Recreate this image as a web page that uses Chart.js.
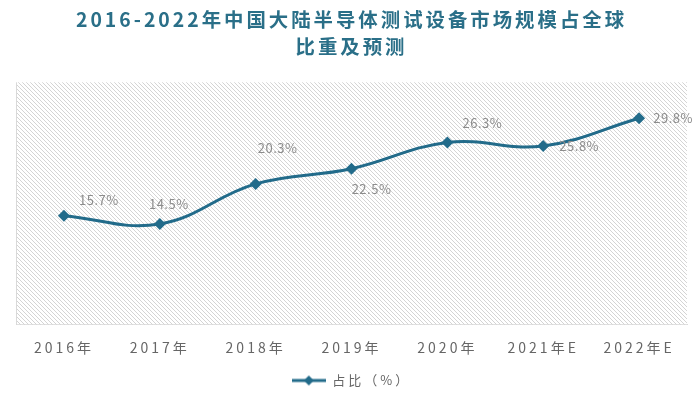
<!DOCTYPE html>
<html>
<head>
<meta charset="utf-8">
<script src="https://cdn.jsdelivr.net/npm/chart.js@4"></script>
<style>
html,body{margin:0;padding:0;background:#fff;}
#wrap{width:700px;height:397px;}
</style>
</head>
<body>
<div id="wrap"><canvas id="c"></canvas></div>
<script>
const categories = ['2016年','2017年','2018年','2019年','2020年','2021年E','2022年E'];
const shareValues = [15.7, 14.5, 20.3, 22.5, 26.3, 25.8, 29.8];
const seriesName = '占比（%）';
const titleLines = ['2016-2022年中国大陆半导体测试设备市场规模占全球', '比重及预测'];

const LINE_COLOR = '#226b8a';
const CJK = '"Noto Sans CJK SC", "Noto Sans", sans-serif';

// legend marker: line with diamond
const legendMark = document.createElement('canvas');
legendMark.width = 34; legendMark.height = 12;
(function(){
  const g = legendMark.getContext('2d');
  g.strokeStyle = LINE_COLOR; g.lineWidth = 3;
  g.beginPath(); g.moveTo(0,6); g.lineTo(34,6); g.stroke();
  g.fillStyle = LINE_COLOR;
  g.beginPath(); g.moveTo(17,1); g.lineTo(22,6); g.lineTo(17,11); g.lineTo(12,6); g.closePath(); g.fill();
})();

// hatched pattern
function makePattern(ctx){
  const t = document.createElement('canvas');
  t.width = 4; t.height = 4;
  const g = t.getContext('2d');
  g.fillStyle = '#ffffff'; g.fillRect(0,0,4,4);
  g.strokeStyle = '#d4d4d4'; g.lineWidth = 1;
  g.beginPath();
  g.moveTo(-1,-1); g.lineTo(5,5);
  g.moveTo(-1,3); g.lineTo(1,5);
  g.moveTo(3,-1); g.lineTo(5,1);
  g.stroke();
  return ctx.createPattern(t, 'repeat');
}

const spacingPlugin = {
  id: 'spacing',
  beforeLayout(chart){ chart.ctx.letterSpacing = '3px'; },
  beforeDraw(chart){ chart.ctx.letterSpacing = '3px'; }
};

const areaPlugin = {
  id: 'area',
  beforeDatasetsDraw(chart){
    const {ctx, chartArea:a} = chart;
    ctx.save();
    ctx.fillStyle = makePattern(ctx);
    ctx.fillRect(a.left, a.top, a.right-a.left, a.bottom-a.top);
    ctx.strokeStyle = '#d9d9d9'; ctx.lineWidth = 1;
    ctx.beginPath(); ctx.moveTo(a.left+0.5, a.top); ctx.lineTo(a.left+0.5, a.bottom); ctx.stroke();
    ctx.restore();
  }
};

const labelPlugin = {
  id: 'pointLabels',
  afterDatasetsDraw(chart, args, opts){
    const {ctx} = chart;
    const meta = chart.getDatasetMeta(0);
    ctx.save();
    ctx.letterSpacing = '0.5px';
    ctx.font = '13px ' + CJK;
    ctx.fillStyle = '#8c8c8c';
    ctx.textAlign = 'center';
    ctx.textBaseline = 'middle';
    meta.data.forEach((pt, i) => {
      const v = chart.data.datasets[0].data[i];
      const o = opts.offsets[i];
      ctx.fillText(v.toFixed(1) + '%', pt.x + o[0], pt.y + o[1]);
    });
    ctx.restore();
  }
};

new Chart(document.getElementById('c'), {
  type: 'line',
  data: {
    labels: categories,
    datasets: [{
      label: seriesName,
      data: shareValues,
      borderColor: LINE_COLOR,
      backgroundColor: LINE_COLOR,
      borderWidth: 3,
      tension: 0.4,
      pointStyle: 'rectRot',
      pointRadius: 6,
      pointHoverRadius: 6,
      pointBackgroundColor: LINE_COLOR,
      pointBorderColor: LINE_COLOR,
      pointBorderWidth: 0
    }]
  },
  options: {
    responsive: true,
    maintainAspectRatio: false,
    animation: false,
    layout: { padding: { left: 16, right: 13, top: 0, bottom: 0 } },
    scales: {
      x: {
        offset: true,
        grid: { display: false, drawTicks: false },
        border: { display: true, color: '#d9d9d9', width: 1 },
        ticks: { color: '#666666', font: { family: CJK, size: 14 }, padding: 15, maxRotation: 0, autoSkip: false }
      },
      y: {
        display: false,
        min: 0, max: 35
      }
    },
    plugins: {
      title: {
        display: true,
        text: titleLines,
        color: '#2a6f88',
        font: { family: CJK, size: 19.4, weight: 'bold', lineHeight: 1.4 },
        padding: { top: 6, bottom: 22 }
      },
      legend: {
        position: 'bottom',
        labels: {
          usePointStyle: true,
          pointStyle: legendMark,
          pointStyleWidth: 34,
          boxHeight: 12,
          color: '#666666',
          font: { family: CJK, size: 13 },
          padding: 3
        }
      },
      tooltip: { enabled: false },
      pointLabels: {
        offsets: [[35,-16],[9,-20],[22,-36],[20,20],[35,-19],[36,0],[34,0]]
      }
    }
  },
  plugins: [spacingPlugin, areaPlugin, labelPlugin]
});
</script>
</body>
</html>
